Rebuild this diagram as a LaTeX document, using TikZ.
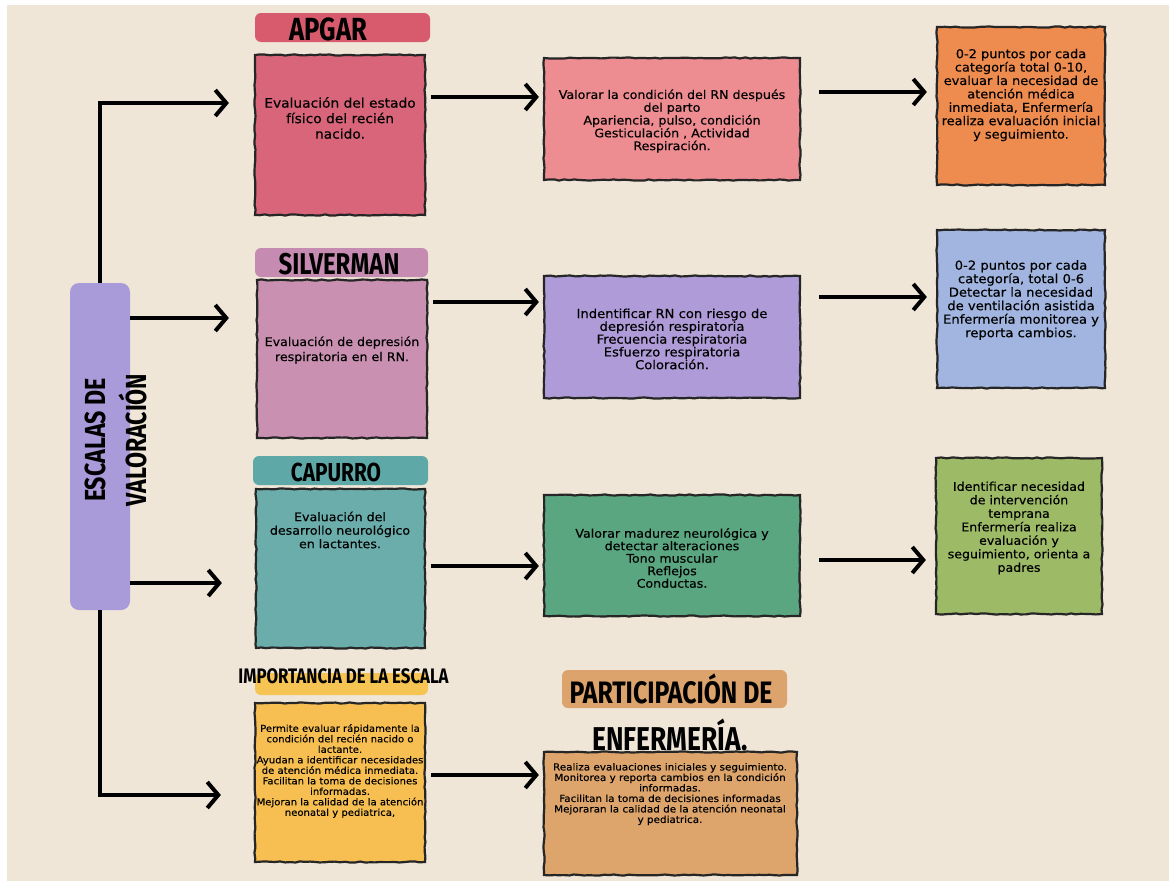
\documentclass[tikz,border=0pt]{standalone}
\usepackage{fontspec}
\setmainfont{DejaVu Sans}[FakeStretch=1.06,FakeBold=0.3]
\newfontfamily\markfont[FakeStretch=0.8]{Fira Sans}
\usetikzlibrary{arrows.meta,decorations.pathmorphing}
\newcommand\txtsize[2]{\fontsize{#1}{#2}\selectfont}
\definecolor{paper}{HTML}{EFE6D8}
\definecolor{barcol}{HTML}{A99AD9}
\definecolor{apgartagc}{HTML}{D85A6D}
\definecolor{apgarboxc}{HTML}{D8657A}
\definecolor{apgarvalc}{HTML}{ED8C91}
\definecolor{apgarnotec}{HTML}{EE8B4F}
\definecolor{siltagc}{HTML}{C68BB0}
\definecolor{silboxc}{HTML}{C990B1}
\definecolor{silvalc}{HTML}{AE9BD7}
\definecolor{silnotec}{HTML}{A1B5E0}
\definecolor{captagc}{HTML}{5EA8A8}
\definecolor{capboxc}{HTML}{6AADAB}
\definecolor{capvalc}{HTML}{5AA680}
\definecolor{capnotec}{HTML}{9DBA66}
\definecolor{imptagc}{HTML}{F6C453}
\definecolor{impboxc}{HTML}{F7BF52}
\definecolor{parttagc}{HTML}{DCA36C}
\definecolor{partboxc}{HTML}{DDA46C}
\begin{document}
\begin{tikzpicture}[x=1pt,y=-1pt,
    card/.style={draw=black!85,line width=2.2pt,inner sep=0pt,decorate,
      decoration={random steps,segment length=5pt,amplitude=0.6pt}},
    tagbox/.style={rounded corners=6pt,inner sep=0pt},
    body/.style={align=center,inner sep=0pt,text=black},
    arr/.style={line width=4pt,-{Straight Barb[length=11pt,width=26pt]}}]
  \useasboundingbox (0,0) rectangle (1175,886);
  \fill[white] (0,0) rectangle (1175,886);
  \fill[paper] (7,5) rectangle (1169,881);

  % central bar
  \node[fill=barcol,rounded corners=9pt,minimum width=60pt,minimum height=327pt] (bar) at (100,446.5) {};
  \node[rotate=90,align=center,font=\markfont\bfseries\txtsize{29}{41}] (bartxt) at (116,440) {ESCALAS DE\\VALORACIÓN};

  % APGAR
  \node[tagbox,fill=apgartagc,minimum width=175pt,minimum height=29pt] (apgartag) at (342.5,27.5) {};
  \node[font=\markfont\bfseries\txtsize{32}{32}] (apgartitle) at (328,29) {APGAR};
  \node[card,fill=apgarboxc,minimum width=170pt,minimum height=160pt] (apgarbox) at (340,135) {};
  \node[body,font=\txtsize{13}{15.5}] (apgartxt) at (340,118) {Evaluación del estado\\físico del recién\\nacido.};
  \node[card,fill=apgarvalc,minimum width=256pt,minimum height=122pt] (apgarval) at (672,119) {};
  \node[body,font=\txtsize{11.9}{12.8}] (apgarvaltxt) at (672,121) {Valorar la condición del RN después\\del parto\\Apariencia, pulso, condición\\Gesticulación , Actividad\\Respiración.};
  \node[card,fill=apgarnotec,minimum width=168pt,minimum height=158pt] (apgarnote) at (1021,106) {};
  \node[body,font=\txtsize{12.2}{13.4}] (apgarnotetxt) at (1021,95) {0-2 puntos por cada\\categoría total 0-10,\\evaluar la necesidad de\\atención médica\\inmediata, Enfermería\\realiza evaluación inicial\\y seguimiento.};

  % SILVERMAN
  \node[tagbox,fill=siltagc,minimum width=173pt,minimum height=29pt] (siltag) at (341.5,262.5) {};
  \node[font=\markfont\bfseries\txtsize{30}{30}] (siltitle) at (339,264.5) {SILVERMAN};
  \node[card,fill=silboxc,minimum width=170pt,minimum height=158pt] (silbox) at (342,359) {};
  \node[body,font=\txtsize{11.9}{15}] (siltxt) at (342,350) {Evaluación de depresión\\respiratoria en el RN.};
  \node[card,fill=silvalc,minimum width=256pt,minimum height=122pt] (silval) at (672,337) {};
  \node[body,font=\txtsize{12.4}{12.8}] (silvaltxt) at (672,339) {Indentificar RN con riesgo de\\depresión respiratoria\\Frecuencia respiratoria\\Esfuerzo respiratoria\\Coloración.};
  \node[card,fill=silnotec,minimum width=168pt,minimum height=158pt] (silnote) at (1021,309) {};
  \node[body,font=\txtsize{12.4}{13.5}] (silnotetxt) at (1021,300) {0-2 puntos por cada\\categoría, total 0-6\\Detectar la necesidad\\de ventilación asistida\\Enfermería monitorea y\\reporta cambios.};

  % CAPURRO
  \node[tagbox,fill=captagc,minimum width=175pt,minimum height=29pt] (captag) at (340.5,470.5) {};
  \node[font=\markfont\bfseries\txtsize{26}{26}] (captitle) at (336,472) {CAPURRO};
  \node[card,fill=capboxc,minimum width=169pt,minimum height=159pt] (capbox) at (340.5,568.5) {};
  \node[body,font=\txtsize{11.9}{13.5}] (captxt) at (340,530) {Evaluación del\\desarrollo neurológico\\en lactantes.};
  \node[card,fill=capvalc,minimum width=256pt,minimum height=121pt] (capval) at (672,555.5) {};
  \node[body,font=\txtsize{11.9}{12.5}] (capvaltxt) at (672,558) {Valorar madurez neurológica y\\detectar alteraciones\\Tono muscular\\Reflejos\\Conductas.};
  \node[card,fill=capnotec,minimum width=166pt,minimum height=156pt] (capnote) at (1019,536) {};
  \node[body,font=\txtsize{11.9}{13.5}] (capnotetxt) at (1019,528) {Identificar necesidad\\de intervención\\temprana\\Enfermería realiza\\evaluación y\\seguimiento, orienta a\\padres};

  % importancia y participacion
  \node[tagbox,fill=imptagc,minimum width=173pt,minimum height=22pt] (imptag) at (341.5,684) {};
  \node[font=\markfont\bfseries\txtsize{21}{21}] (imptitle) at (343.5,676.5) {IMPORTANCIA DE LA ESCALA};
  \node[card,fill=impboxc,minimum width=170pt,minimum height=159pt] (impbox) at (340,782.5) {};
  \node[body,font=\txtsize{9.5}{10.5}] (imptxt) at (340,771) {Permite evaluar rápidamente la\\condición del recién nacido o\\lactante.\\Ayudan a identificar necesidades\\de atención médica inmediata.\\Facilitan la toma de decisiones\\informadas.\\Mejoran la calidad de la atención\\neonatal y pediatrica,};
  \node[tagbox,fill=parttagc,minimum width=225pt,minimum height=38pt] (parttag) at (674.5,689) {};
  \node[font=\markfont\bfseries\txtsize{31}{31}] (parttitle) at (671,689) {PARTICIPACIÓN DE};
  \node[font=\markfont\bfseries\txtsize{33}{33}] (parttitleb) at (670,735) {ENFERMERÍA.};
  \node[card,fill=partboxc,minimum width=253pt,minimum height=123pt] (partbox) at (670.5,813.5) {};
  \node[body,font=\txtsize{9.8}{10.5}] (parttxt) at (670,794) {Realiza evaluaciones iniciales y seguimiento.\\Monitorea y reporta cambios en la condición\\informadas.\\Facilitan la toma de decisiones informadas\\Mejoraran la calidad de la atención neonatal\\y pediatrica.};

  % connectors
  \draw[arr,shorten >=25pt] (bar.north) |- (apgarbox.west |- 0,103);
  \draw[arr,shorten >=27pt] (bar.east |- 0,318) -- (silbox.west |- 0,318);
  \draw[arr,shorten >=33pt] (bar.east |- 0,583) -- (capbox.west |- 0,583);
  \draw[arr,shorten >=33pt] (bar.south) |- (impbox.west |- 0,795);
  \draw[arr,shorten <=5pt,shorten >=4pt] (apgarbox.east |- 0,97) -- (apgarval.west |- 0,97);
  \draw[arr,shorten <=18pt,shorten >=9pt] (apgarval.east |- 0,92) -- (apgarnote.west |- 0,92);
  \draw[arr,shorten <=5pt,shorten >=4pt] (silbox.east |- 0,302) -- (silval.west |- 0,302);
  \draw[arr,shorten <=18pt,shorten >=9pt] (silval.east |- 0,297) -- (silnote.west |- 0,297);
  \draw[arr,shorten <=5pt,shorten >=4pt] (capbox.east |- 0,566) -- (capval.west |- 0,566);
  \draw[arr,shorten <=18pt,shorten >=9pt] (capval.east |- 0,560) -- (capnote.west |- 0,560);
  \draw[arr,shorten <=5pt,shorten >=4pt] (impbox.east |- 0,775) -- (partbox.west |- 0,775);
\end{tikzpicture}
\end{document}
